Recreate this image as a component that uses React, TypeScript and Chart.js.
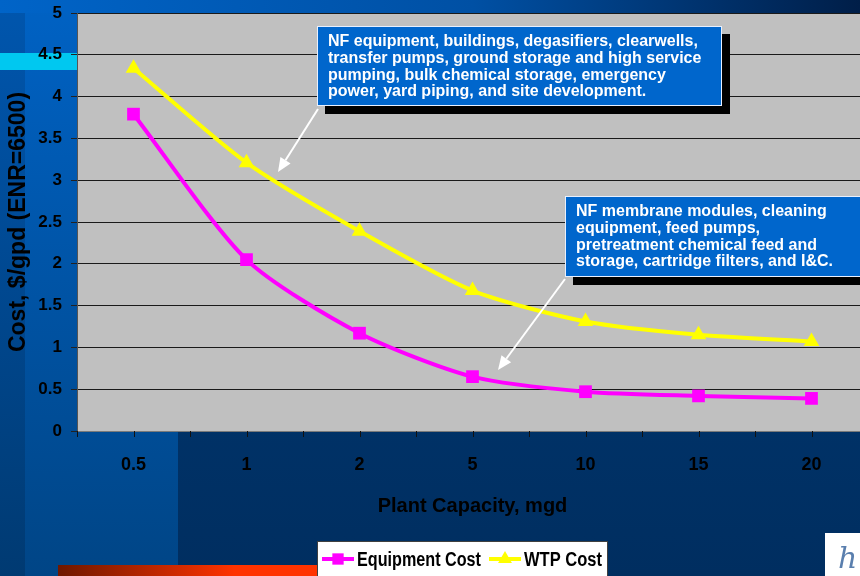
import { useEffect, useRef } from 'react';
import { Chart, registerables } from 'chart.js';

Chart.register(...registerables);

const capacities = ['0.5', '1', '2', '5', '10', '15', '20'];
const equipmentCost = [3.79, 2.05, 1.17, 0.65, 0.47, 0.42, 0.39];
const wtpCost = [4.34, 3.21, 2.39, 1.68, 1.31, 1.15, 1.07];
const seriesNames = ['Equipment Cost', 'WTP Cost'];
const yTickStep = 0.5;
const yMin = 0;
const yMax = 5;
const yAxisTitle = 'Cost, $/gpd (ENR=6500)';
const xAxisTitle = 'Plant Capacity, mgd';
const note1 = [
  'NF equipment, buildings, degasifiers, clearwells,',
  'transfer pumps, ground storage and high service',
  'pumping, bulk chemical storage, emergency',
  'power, yard piping, and site development.',
];
const note2 = [
  'NF membrane modules, cleaning',
  'equipment, feed pumps,',
  'pretreatment chemical feed and',
  'storage, cartridge filters, and I&C.',
];

const SANS = "'Liberation Sans', Arial, sans-serif";

function drawMarker(ctx: CanvasRenderingContext2D, style: string, x: number, y: number, r: number, color: string) {
  ctx.save();
  ctx.fillStyle = color;
  ctx.beginPath();
  if (style === 'triangle') {
    const h = r * 1.5;
    const w = r * Math.sqrt(3);
    ctx.moveTo(x, y - r);
    ctx.lineTo(x + w / 2, y - r + h);
    ctx.lineTo(x - w / 2, y - r + h);
    ctx.closePath();
  } else {
    const s = r * Math.SQRT1_2;
    ctx.rect(x - s, y - s, 2 * s, 2 * s);
  }
  ctx.fill();
  ctx.restore();
}

function drawArrow(ctx: CanvasRenderingContext2D, x1: number, y1: number, x2: number, y2: number) {
  const ang = Math.atan2(y2 - y1, x2 - x1);
  const len = 14;
  const wid = 6;
  const bx = x2 - Math.cos(ang) * len;
  const by = y2 - Math.sin(ang) * len;
  ctx.save();
  ctx.strokeStyle = '#ffffff';
  ctx.fillStyle = '#ffffff';
  ctx.lineWidth = 2;
  ctx.beginPath();
  ctx.moveTo(x1, y1);
  ctx.lineTo(bx, by);
  ctx.stroke();
  ctx.beginPath();
  ctx.moveTo(x2, y2);
  ctx.lineTo(bx + Math.sin(ang) * wid, by - Math.cos(ang) * wid);
  ctx.lineTo(bx - Math.sin(ang) * wid, by + Math.cos(ang) * wid);
  ctx.closePath();
  ctx.fill();
  ctx.restore();
}

function drawNote(ctx: CanvasRenderingContext2D, lines: string[], x: number, y: number, w: number, h: number) {
  ctx.save();
  ctx.fillStyle = '#000000';
  ctx.fillRect(x + 8, y + 8, w, h);
  ctx.fillStyle = '#0066cc';
  ctx.fillRect(x, y, w, h);
  ctx.strokeStyle = '#e8f0ff';
  ctx.lineWidth = 1;
  ctx.strokeRect(x + 0.5, y + 0.5, w - 1, h - 1);
  ctx.fillStyle = '#ffffff';
  ctx.font = `bold 16px ${SANS}`;
  ctx.textBaseline = 'middle';
  ctx.textAlign = 'left';
  lines.forEach((t, i) => ctx.fillText(t, x + 11, y + 15.5 + i * 16.8));
  ctx.restore();
}

function fitText(ctx: CanvasRenderingContext2D, text: string, x: number, y: number, targetW: number) {
  const w = ctx.measureText(text).width;
  const sx = Math.min(1, targetW / w);
  ctx.save();
  ctx.translate(x, y);
  ctx.scale(sx, 1);
  ctx.fillText(text, 0, 0);
  ctx.restore();
}

const decorPlugin = {
  id: 'decor',
  beforeDraw(chart: any) {
    const ctx: CanvasRenderingContext2D = chart.ctx;
    const W = chart.width;
    const H = chart.height;
    const { left, top, right, bottom } = chart.chartArea;
    ctx.save();
    let g = ctx.createLinearGradient(0, 0, 0, H);
    g.addColorStop(0, '#003c7a');
    g.addColorStop(1, '#002e60');
    ctx.fillStyle = g;
    ctx.fillRect(0, 0, W, H);
    g = ctx.createLinearGradient(0, 0, 0, H);
    g.addColorStop(0, '#0062c4');
    g.addColorStop(1, '#004586');
    ctx.fillStyle = g;
    ctx.fillRect(25, 0, 153, H);
    g = ctx.createLinearGradient(0, 0, 0, H);
    g.addColorStop(0, '#0056ae');
    g.addColorStop(1, '#003a72');
    ctx.fillStyle = g;
    ctx.fillRect(0, 0, 25, H);
    g = ctx.createLinearGradient(0, 0, 860, 0);
    g.addColorStop(0, '#0064c8');
    g.addColorStop(0.55, '#0050a4');
    g.addColorStop(1, '#001e48');
    ctx.fillStyle = g;
    ctx.fillRect(0, 0, W, top);
    ctx.fillStyle = '#00c8f0';
    ctx.fillRect(0, 53, left, 17);
    ctx.fillStyle = '#c0c0c0';
    ctx.fillRect(left, top, right - left, bottom - top);
    ctx.restore();
  },
  afterDraw(chart: any) {
    const ctx: CanvasRenderingContext2D = chart.ctx;
    const xs = chart.scales.x;
    const { bottom } = chart.chartArea;
    ctx.save();
    // x tick marks at category centres and boundaries
    const half = (xs.getPixelForValue(1) - xs.getPixelForValue(0)) / 2;
    ctx.strokeStyle = '#111111';
    ctx.lineWidth = 1;
    ctx.beginPath();
    for (let i = 0; i < capacities.length; i++) {
      const c = xs.getPixelForValue(i);
      [c - half, c, c + half].forEach((px) => {
        const x = Math.round(px) + 0.5;
        ctx.moveTo(x, bottom);
        ctx.lineTo(x, bottom + 6);
      });
    }
    ctx.stroke();

    // annotations
    drawNote(ctx, note1, 317, 26, 405, 80);
    drawNote(ctx, note2, 565, 196, 310, 81);
    drawArrow(ctx, 318, 109, 278, 172);
    drawArrow(ctx, 565, 279, 498, 370);

    // red bar
    const rg = ctx.createLinearGradient(58, 0, 330, 0);
    rg.addColorStop(0, '#6e1800');
    rg.addColorStop(0.65, '#ff3300');
    rg.addColorStop(1, '#ff3300');
    ctx.fillStyle = rg;
    ctx.fillRect(58, 565, 272, 11);

    // legend
    ctx.fillStyle = '#ffffff';
    ctx.fillRect(317, 541, 291, 40);
    ctx.strokeStyle = '#404040';
    ctx.lineWidth = 1;
    ctx.strokeRect(317.5, 541.5, 290, 40);
    const items = [
      { x: 322, tx: 357, tw: 124 },
      { x: 489, tx: 524, tw: 78 },
    ];
    chart.data.datasets.forEach((ds: any, i: number) => {
      const it = items[i];
      const y = 559;
      ctx.strokeStyle = ds.borderColor;
      ctx.lineWidth = 4;
      ctx.beginPath();
      ctx.moveTo(it.x, y);
      ctx.lineTo(it.x + 32, y);
      ctx.stroke();
      drawMarker(ctx, ds.pointStyle, it.x + 16, y, 8, ds.borderColor);
      ctx.fillStyle = '#000000';
      ctx.font = `bold 20px ${SANS}`;
      ctx.textBaseline = 'middle';
      ctx.textAlign = 'left';
      fitText(ctx, ds.label, it.tx, y + 1, it.tw);
    });

    // logo
    ctx.fillStyle = '#ffffff';
    ctx.fillRect(825, 533, 40, 45);
    ctx.fillStyle = '#5a7fae';
    ctx.font = `italic 30px 'DejaVu Serif', serif`;
    ctx.textBaseline = 'alphabetic';
    ctx.fillText('h', 838, 568);
    ctx.restore();
  },
};

export default function App() {
  const ref = useRef<HTMLCanvasElement | null>(null);
  useEffect(() => {
    if (!ref.current) return;
    const chart = new Chart(ref.current, {
      type: 'line',
      data: {
        labels: capacities,
        datasets: [
          {
            label: seriesNames[0],
            data: equipmentCost,
            borderColor: '#ff00ff',
            backgroundColor: '#ff00ff',
            borderWidth: 4,
            pointStyle: 'rect',
            pointRadius: 9,
            pointBorderWidth: 0,
            tension: 0.25,
          },
          {
            label: seriesNames[1],
            data: wtpCost,
            borderColor: '#ffff00',
            backgroundColor: '#ffff00',
            borderWidth: 4,
            pointStyle: 'triangle',
            pointRadius: 9,
            pointBorderWidth: 0,
            tension: 0.25,
          },
        ],
      },
      options: {
        responsive: false,
        maintainAspectRatio: false,
        animation: false,
        layout: { padding: { top: 13, left: 0, right: 0, bottom: 0 } },
        plugins: {
          legend: { display: false },
          tooltip: { enabled: false },
        },
        scales: {
          x: {
            type: 'category',
            offset: true,
            grid: { display: false, drawTicks: true, tickLength: 23 },
            border: { display: true, color: '#7a7a7a', width: 1 },
            ticks: {
              color: '#000000',
              font: { family: SANS, size: 18, weight: 'bold' },
              padding: 0,
              maxRotation: 0,
              autoSkip: false,
            },
            title: {
              display: true,
              text: xAxisTitle,
              color: '#000000',
              font: { family: SANS, size: 20, weight: 'bold' },
              padding: { top: 0, bottom: 58 },
            },
            afterFit: (s: any) => {
              s.height = 145;
            },
          },
          y: {
            min: yMin,
            max: yMax,
            ticks: {
              stepSize: yTickStep,
              color: '#000000',
              font: { family: SANS, size: 17, weight: 'bold', lineHeight: 0.4 },
              padding: 9,
              callback: (v: any) => String(Number(v)),
            },
            grid: { color: '#1a1a1a', lineWidth: 1, tickLength: 6, tickColor: '#222222' },
            border: { display: true, color: '#555555', width: 1 },
            title: {
              display: true,
              text: yAxisTitle,
              color: '#000000',
              font: { family: SANS, size: 23, weight: 'bold' },
              padding: { top: 5, bottom: 0 },
            },
            afterFit: (s: any) => {
              s.width = 77;
            },
          },
        },
      } as any,
      plugins: [decorPlugin],
    });
    return () => chart.destroy();
  }, []);
  return (
    <div style={{ position: 'fixed', left: 0, top: 0, width: 860, height: 576, overflow: 'hidden' }}>
      <canvas ref={ref} width={877} height={576} style={{ display: 'block', width: 877, height: 576 }} />
    </div>
  );
}
